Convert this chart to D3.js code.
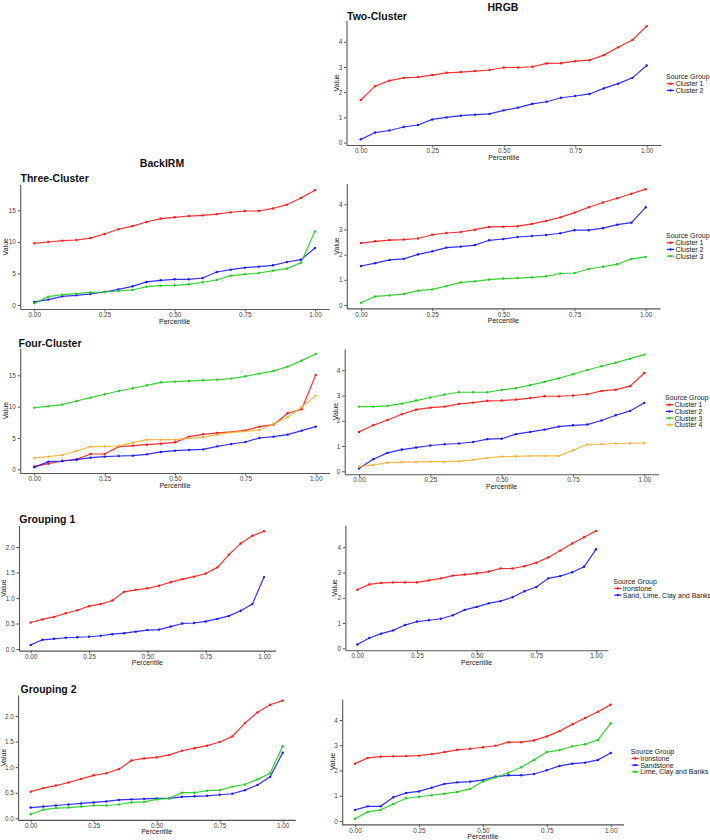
<!DOCTYPE html>
<html><head><meta charset="utf-8">
<script src="https://cdn.jsdelivr.net/npm/d3@7/dist/d3.min.js"></script>
<style>
body{margin:0;background:#fff}
text{font-family:"Liberation Sans",Arial,sans-serif}
</style>
</head><body>
<svg id="chart" width="710" height="840"></svg>
<script>
// ---------- DATA ----------
const percentiles = [0,0.05,0.10,0.15,0.20,0.25,0.30,0.35,0.40,0.45,0.50,0.55,0.60,0.65,0.70,0.75,0.80,0.85,0.90,0.95,1.00];
const xTicks = [0,0.25,0.5,0.75,1];

// HRGB Two-Cluster
const hrgb2_c1 = [1.69,2.24,2.46,2.57,2.60,2.68,2.77,2.80,2.84,2.88,2.98,2.98,3.01,3.14,3.15,3.23,3.27,3.47,3.78,4.07,4.62];
const hrgb2_c2 = [0.13,0.40,0.48,0.62,0.70,0.92,1.00,1.07,1.11,1.14,1.28,1.39,1.54,1.62,1.78,1.85,1.93,2.15,2.34,2.57,3.06];

// BackIRM Three-Cluster
const birm3_c1 = [9.77,9.98,10.2,10.3,10.6,11.25,12.0,12.5,13.15,13.7,13.9,14.1,14.2,14.4,14.7,14.9,14.9,15.3,15.9,16.96,18.2];
const birm3_c2 = [0.48,0.85,1.37,1.53,1.74,2.06,2.48,2.96,3.65,3.91,4.07,4.07,4.28,5.23,5.6,5.92,6.08,6.29,6.81,7.18,9.03];
const birm3_c3 = [0.26,1.32,1.64,1.80,2.0,2.06,2.22,2.38,2.9,3.06,3.12,3.28,3.6,3.96,4.65,4.86,5.07,5.44,5.76,6.7,11.67];

// HRGB Three-Cluster
const hrgb3_c1 = [2.46,2.53,2.58,2.60,2.64,2.79,2.86,2.90,2.99,3.10,3.11,3.13,3.22,3.34,3.48,3.67,3.88,4.07,4.24,4.42,4.60];
const hrgb3_c2 = [1.55,1.66,1.79,1.83,2.01,2.13,2.28,2.32,2.38,2.57,2.62,2.70,2.74,2.78,2.85,2.97,2.97,3.05,3.19,3.27,3.88];
const hrgb3_c3 = [0.09,0.34,0.38,0.44,0.57,0.62,0.75,0.90,0.94,1.01,1.05,1.07,1.10,1.14,1.25,1.27,1.43,1.52,1.62,1.83,1.91];

// BackIRM Four-Cluster
const birm4_c1 = [0.48,0.90,1.33,1.6,2.45,2.45,3.62,3.78,3.94,4.1,4.31,5.21,5.59,5.8,5.96,6.22,6.81,7.13,8.94,9.57,15.05];
const birm4_c2 = [0.32,1.22,1.33,1.54,1.86,2.02,2.13,2.18,2.39,2.77,2.98,3.09,3.19,3.67,4.04,4.36,5.0,5.21,5.53,6.17,6.81];
const birm4_c3 = [9.84,10.05,10.32,10.9,11.44,11.97,12.5,12.93,13.4,13.88,13.99,14.1,14.2,14.31,14.47,14.84,15.27,15.69,16.38,17.34,18.4];
const birm4_c4 = [1.81,2.02,2.29,2.93,3.62,3.67,3.72,4.26,4.73,4.73,4.73,4.95,5.11,5.53,5.9,6.06,6.28,7.23,8.3,9.95,11.76];

// HRGB Four-Cluster
const hrgb4_c1 = [1.56,1.82,2.03,2.26,2.44,2.52,2.56,2.67,2.72,2.79,2.80,2.84,2.90,2.97,2.97,3.0,3.05,3.18,3.23,3.37,3.89];
const hrgb4_c2 = [0.11,0.48,0.73,0.86,0.94,1.02,1.07,1.10,1.16,1.27,1.29,1.47,1.56,1.65,1.77,1.82,1.85,2.01,2.22,2.39,2.71];
const hrgb4_c3 = [2.56,2.56,2.59,2.68,2.80,2.92,3.04,3.13,3.13,3.13,3.22,3.29,3.41,3.54,3.68,3.84,4.01,4.16,4.30,4.46,4.62];
const hrgb4_c4 = [0.18,0.25,0.34,0.36,0.37,0.38,0.38,0.40,0.45,0.53,0.58,0.59,0.61,0.61,0.61,0.83,1.06,1.07,1.10,1.11,1.12];

// Grouping 1
const birmG1_iron = [0.52,0.58,0.63,0.70,0.76,0.84,0.88,0.95,1.12,1.16,1.19,1.24,1.31,1.37,1.42,1.48,1.60,1.85,2.07,2.22,2.31];
const birmG1_slcb = [0.08,0.18,0.20,0.22,0.23,0.24,0.26,0.29,0.31,0.34,0.37,0.38,0.44,0.50,0.51,0.54,0.59,0.65,0.75,0.88,1.41];
const hrgbG1_iron = [2.32,2.53,2.59,2.61,2.61,2.61,2.69,2.77,2.88,2.92,2.97,3.04,3.16,3.16,3.25,3.39,3.60,3.87,4.15,4.40,4.65];
const hrgbG1_slcb = [0.15,0.41,0.58,0.71,0.92,1.06,1.11,1.17,1.31,1.52,1.64,1.78,1.87,2.02,2.26,2.43,2.77,2.86,3.01,3.23,3.92];

// Grouping 2
const birmG2_iron = [0.52,0.59,0.64,0.70,0.77,0.84,0.88,0.96,1.13,1.17,1.19,1.24,1.32,1.37,1.42,1.49,1.60,1.86,2.07,2.22,2.30];
const birmG2_sand = [0.21,0.23,0.25,0.27,0.29,0.31,0.33,0.36,0.37,0.38,0.39,0.39,0.42,0.43,0.44,0.46,0.48,0.55,0.65,0.81,1.28];
const birmG2_lcb  = [0.08,0.17,0.20,0.21,0.23,0.25,0.25,0.27,0.31,0.32,0.37,0.39,0.50,0.50,0.54,0.55,0.62,0.66,0.76,0.88,1.41];
const hrgbG2_iron = [2.27,2.50,2.55,2.56,2.57,2.59,2.65,2.73,2.82,2.86,2.92,2.98,3.12,3.12,3.19,3.35,3.56,3.83,4.08,4.33,4.61];
const hrgbG2_sand = [0.44,0.58,0.58,0.94,1.11,1.17,1.32,1.47,1.53,1.56,1.62,1.76,1.81,1.81,1.86,2.01,2.18,2.27,2.31,2.42,2.69];
const hrgbG2_lcb  = [0.09,0.36,0.44,0.67,0.90,0.96,1.02,1.08,1.15,1.27,1.56,1.72,1.91,2.13,2.42,2.73,2.81,2.96,3.04,3.21,3.87];

const clusterNames = ["Cluster 1","Cluster 2","Cluster 3","Cluster 4"];
const g1Names = ["Ironstone","Sand, Lime, Clay and Banks"];
const g2Names = ["Ironstone","Sandstone","Lime, Clay and Banks"];
const hrgbYTicks = [0,1,2,3,4];
const birmYTicks = [0,5,10,15];
const grpYTicks = [0,0.5,1.0,1.5,2.0];

// ---------- STYLE / LAYOUT ----------
const RED="#ff1a1a", BLUE="#1a1aff", GREEN="#22cc22", ORANGE="#f2b23a";

const panels = [
 {frame:[346.5,20.5,661,145], series:[hrgb2_c1,hrgb2_c2], colors:[RED,BLUE], names:clusterNames,
  yTicks:hrgbYTicks, yFmt:d3.format("d"), title:"Two-Cluster", tx:347, ty:19.5, valueX:337,
  legend:[666,77]},
 {frame:[20.2,184.5,329,309], series:[birm3_c1,birm3_c2,birm3_c3], colors:[RED,BLUE,GREEN],
  yTicks:birmYTicks, yFmt:d3.format("d"), title:"Three-Cluster", tx:20.5, ty:182, valueX:6},
 {frame:[346.8,183.5,659.9,308.4], series:[hrgb3_c1,hrgb3_c2,hrgb3_c3], colors:[RED,BLUE,GREEN], names:clusterNames,
  yTicks:hrgbYTicks, yFmt:d3.format("d"), valueX:337, legend:[666,236]},
 {frame:[20.2,348.3,329.8,473], series:[birm4_c1,birm4_c2,birm4_c3,birm4_c4], colors:[RED,BLUE,GREEN,ORANGE],
  yTicks:birmYTicks, yFmt:d3.format("d"), title:"Four-Cluster", tx:18.5, ty:347, valueX:6},
 {frame:[344.7,348.9,658.6,474.2], series:[hrgb4_c1,hrgb4_c2,hrgb4_c3,hrgb4_c4], colors:[RED,BLUE,GREEN,ORANGE], names:clusterNames,
  yTicks:hrgbYTicks, yFmt:d3.format("d"), valueX:336, legend:[665,398]},
 {frame:[19,525.5,275.7,650.6], series:[birmG1_iron,birmG1_slcb], colors:[RED,BLUE],
  yTicks:grpYTicks, yFmt:d3.format(".1f"), title:"Grouping 1", tx:19.3, ty:523, valueX:4},
 {frame:[345.4,525.2,607.9,650.2], series:[hrgbG1_iron,hrgbG1_slcb], colors:[RED,BLUE], names:g1Names,
  yTicks:hrgbYTicks, yFmt:d3.format("d"), valueX:335, legend:[613.3,581.7]},
 {frame:[18.1,694.9,295.3,819.9], series:[birmG2_iron,birmG2_sand,birmG2_lcb], colors:[RED,BLUE,GREEN],
  yTicks:grpYTicks, yFmt:d3.format(".1f"), title:"Grouping 2", tx:20.5, ty:692.7, valueX:4},
 {frame:[342.2,698.9,623.5,824.4], series:[hrgbG2_iron,hrgbG2_sand,hrgbG2_lcb], colors:[RED,BLUE,GREEN], names:g2Names,
  yTicks:hrgbYTicks, yFmt:d3.format("d"), valueX:333, legend:[630.7,751.7]}
];

const svg = d3.select("#chart");

// Column titles
svg.append("text").attr("x",503).attr("y",10.5).attr("text-anchor","middle")
  .attr("font-size",10.5).attr("font-weight","bold").attr("fill","#111").text("HRGB");
svg.append("text").attr("x",162).attr("y",167).attr("text-anchor","middle")
  .attr("font-size",10.5).attr("font-weight","bold").attr("fill","#111").text("BackIRM");

panels.forEach(p => {
  const [l,t,r,b] = p.frame;
  const x = d3.scaleLinear().domain([-0.05,1.05]).range([l,r]);
  const all = p.series.flat();
  const [mn,mx] = d3.extent(all);
  const pad = (mx-mn)*0.05;
  const y = d3.scaleLinear().domain([mn-pad,mx+pad]).range([b,t]);
  const g = svg.append("g");

  // axes
  const xa = g.append("g").attr("transform",`translate(0,${b})`)
    .call(d3.axisBottom(x).tickValues(xTicks).tickFormat(d3.format(".2f")).tickSize(2.5).tickSizeOuter(0).tickPadding(1.2));
  const ya = g.append("g").attr("transform",`translate(${l},0)`)
    .call(d3.axisLeft(y).tickValues(p.yTicks).tickFormat(p.yFmt).tickSize(2.5).tickSizeOuter(0).tickPadding(1.8));
  [xa,ya].forEach(a => {
    a.select(".domain").attr("stroke","#555").attr("stroke-width",1.1);
    a.selectAll(".tick line").attr("stroke","#555").attr("stroke-width",1);
    a.selectAll(".tick text").attr("fill","#444").attr("font-size",6.4)
      .attr("font-family",'"Liberation Sans",Arial,sans-serif');
  });

  // axis titles
  g.append("text").attr("x",(l+r)/2).attr("y",b+14.5).attr("text-anchor","middle")
    .attr("font-size",7).attr("fill","#222").text("Percentile");
  g.append("text").attr("transform",`translate(${p.valueX},${(t+b)/2}) rotate(-90)`)
    .attr("text-anchor","middle").attr("dy","0.35em")
    .attr("font-size",7).attr("fill","#222").text("Value");

  // lines & points
  const line = d3.line().x((d,i)=>x(percentiles[i])).y(d=>y(d));
  p.series.forEach((s,k) => {
    g.append("path").datum(s).attr("d",line).attr("fill","none")
      .attr("stroke",p.colors[k]).attr("stroke-width",1.2).attr("stroke-opacity",0.9);
    g.selectAll(null).data(s).enter().append("circle")
      .attr("cx",(d,i)=>x(percentiles[i])).attr("cy",d=>y(d)).attr("r",1.2)
      .attr("fill",p.colors[k]);
  });

  if (p.title) {
    svg.append("text").attr("x",p.tx).attr("y",p.ty).attr("font-size",10.5)
      .attr("font-weight","bold").attr("fill","#111").text(p.title);
  }

  if (p.legend) {
    const [lx,ly] = p.legend;
    const lg = svg.append("g");
    lg.append("text").attr("x",lx).attr("y",ly).attr("dy","0.35em")
      .attr("font-size",7).attr("fill","#222").text("Source Group");
    p.series.forEach((s,k) => {
      const yy = ly + 6.7*(k+1);
      lg.append("line").attr("x1",lx+1).attr("x2",lx+8).attr("y1",yy).attr("y2",yy)
        .attr("stroke",p.colors[k]).attr("stroke-width",1.2);
      lg.append("circle").attr("cx",lx+4.5).attr("cy",yy).attr("r",1.2).attr("fill",p.colors[k]);
      lg.append("text").attr("x",lx+9.5).attr("y",yy).attr("dy","0.35em")
        .attr("font-size",7).attr("fill","#222").text(p.names[k]);
    });
  }
});
</script>
</body></html>
